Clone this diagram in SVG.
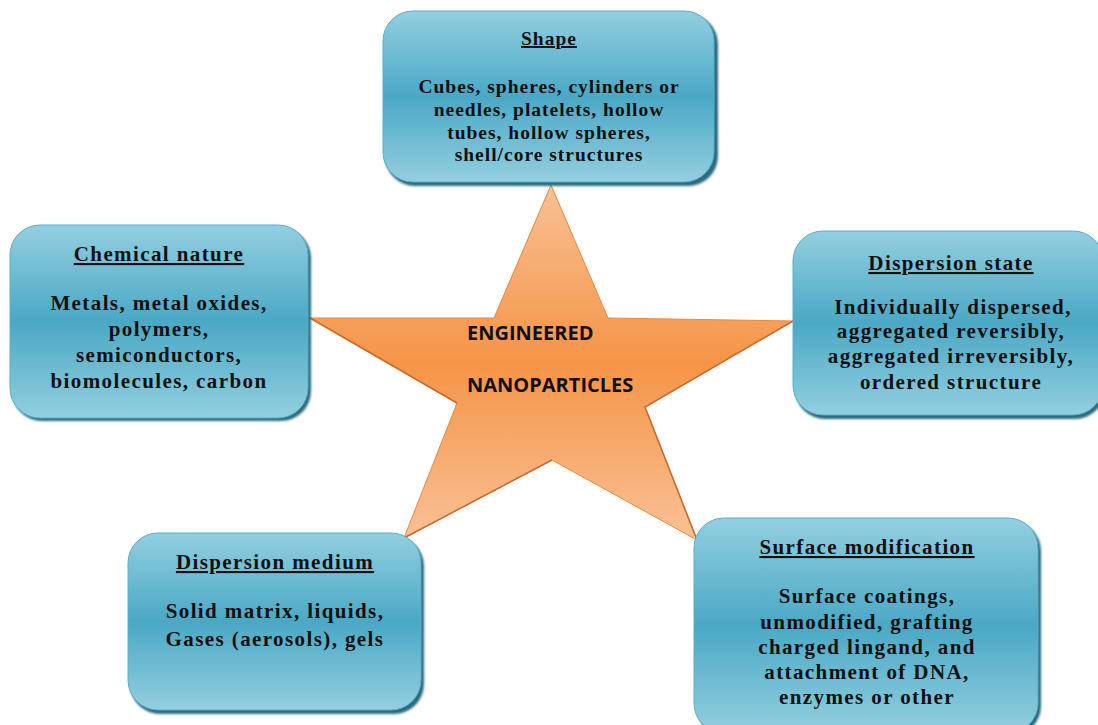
<svg xmlns="http://www.w3.org/2000/svg" width="1098" height="725" viewBox="0 0 1098 725">
  <defs>
    <linearGradient id="boxFill" x1="0" y1="0" x2="0" y2="1">
      <stop offset="0" stop-color="#93cfe0"/>
      <stop offset="0.5" stop-color="#4aa8c5"/>
      <stop offset="1" stop-color="#93cfe0"/>
    </linearGradient>
    <linearGradient id="starFill" x1="0" y1="0" x2="0" y2="1">
      <stop offset="0" stop-color="#f9c196"/>
      <stop offset="0.5" stop-color="#f59447"/>
      <stop offset="1" stop-color="#f9c196"/>
    </linearGradient>
    <filter id="shadow" x="-10%" y="-10%" width="120%" height="120%">
      <feGaussianBlur stdDeviation="1.2"/>
    </filter>
  </defs>
  <style>
    .box { fill: url(#boxFill); stroke: #5aaec6; stroke-width: 1; }
    .boxShadow { fill: #2b6c80; filter: url(#shadow); }
    .title, .body { font-family: "Liberation Serif", serif; font-weight: bold; font-size: 21px; letter-spacing: 1.4px; fill: #111; text-anchor: middle; }
    .title { text-decoration: underline; }
    .small { font-size: 19.5px; letter-spacing: 1px; }
    .star { fill: url(#starFill); stroke: #e8883f; stroke-width: 1; }
    .starEdge { fill: none; stroke: #c9692a; stroke-width: 1.5; }
    .starText { font-family: "Open Sans", "Liberation Sans", sans-serif; font-weight: bold; font-size: 20px; fill: #111; }
  </style>

  <rect width="1098" height="725" fill="#ffffff"/>

  <!-- central star -->
  <g id="star">
    <polygon class="star" points="551,185 608,318 793,321 645,407 697,540 552,460 404,538 457,403 310,318 494,318"/>
    <polyline class="starEdge" points="793,321 645,407 697,540"/>
    <polyline class="starEdge" points="310,318 457,403"/>
    <polyline class="starEdge" points="552,460 404,538"/>
    <text class="starText" x="467" y="340">ENGINEERED</text>
    <text class="starText" x="467" y="392">NANOPARTICLES</text>
  </g>

  <!-- Shape -->
  <g id="shape">
    <rect class="boxShadow" x="385" y="14" width="333" height="172" rx="30"/>
    <rect class="box" x="383" y="11" width="331" height="171" rx="30"/>
    <text class="title small" x="549" y="45">Shape</text>
    <text class="body small" x="549" y="93">Cubes, spheres, cylinders or</text>
    <text class="body small" x="549" y="116">needles, platelets, hollow</text>
    <text class="body small" x="549" y="139">tubes, hollow spheres,</text>
    <text class="body small" x="549" y="161">shell/core structures</text>
  </g>

  <!-- Chemical nature -->
  <g id="chemical-nature">
    <rect class="boxShadow" x="12" y="228" width="299" height="193" rx="30"/>
    <rect class="box" x="10" y="225" width="298" height="193" rx="30"/>
    <text class="title" x="159" y="261">Chemical nature</text>
    <text class="body" x="159" y="310">Metals, metal oxides,</text>
    <text class="body" x="159" y="336">polymers,</text>
    <text class="body" x="159" y="362">semiconductors,</text>
    <text class="body" x="159" y="388">biomolecules, carbon</text>
  </g>

  <!-- Dispersion state -->
  <g id="dispersion-state">
    <rect class="boxShadow" x="795" y="234" width="310" height="185" rx="30"/>
    <rect class="box" x="793" y="231" width="310" height="184" rx="30"/>
    <text class="title" x="951" y="270">Dispersion state</text>
    <text class="body" x="953" y="314">Individually dispersed,</text>
    <text class="body" x="951" y="338">aggregated reversibly,</text>
    <text class="body" x="951" y="363">aggregated irreversibly,</text>
    <text class="body" x="951" y="389">ordered structure</text>
  </g>

  <!-- Dispersion medium -->
  <g id="dispersion-medium">
    <rect class="boxShadow" x="130" y="536" width="294" height="178" rx="30"/>
    <rect class="box" x="128" y="533" width="293" height="177" rx="30"/>
    <text class="title" x="275" y="569">Dispersion medium</text>
    <text class="body" x="275" y="618">Solid matrix, liquids,</text>
    <text class="body" x="275" y="646">Gases (aerosols), gels</text>
  </g>

  <!-- Surface modification -->
  <g id="surface-modification">
    <rect class="boxShadow" x="696" y="521" width="345" height="215" rx="30"/>
    <rect class="box" x="694" y="518" width="344" height="215" rx="30"/>
    <text class="title" x="867" y="554">Surface modification</text>
    <text class="body" x="867" y="603">Surface coatings,</text>
    <text class="body" x="867" y="629">unmodified, grafting</text>
    <text class="body" x="867" y="654">charged lingand, and</text>
    <text class="body" x="867" y="679">attachment of DNA,</text>
    <text class="body" x="867" y="704">enzymes or other</text>
  </g>
</svg>
